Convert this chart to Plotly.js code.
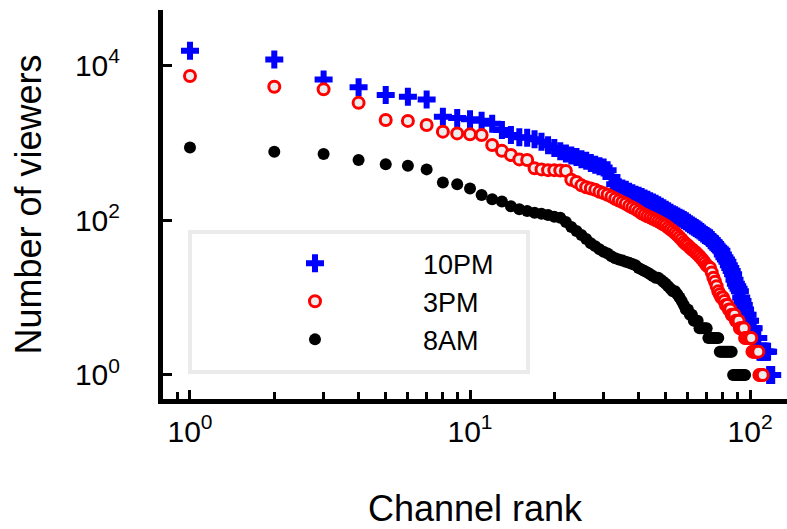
<!DOCTYPE html>
<html>
<head>
<meta charset="utf-8">
<script src="https://cdn.plot.ly/plotly-3.0.1.min.js"></script>
<style>html,body{margin:0;padding:0;background:#fff;} #chart{width:787px;height:529px;}</style>
</head>
<body>
<div id="chart"></div>
<script>
// Series values (viewers) by channel rank
const seriesNames = ["10PM", "3PM", "8AM"];
const viewers10PM = [
  15300, 11800, 6500, 5150, 4100, 3900, 3600, 2150, 2070, 2000,
  1910, 1740, 1450, 1250, 1170, 1150, 1100, 1020, 920, 850,
  770, 720, 680, 650, 610, 580, 545, 515, 495, 475,
  440, 360, 290, 265, 255, 245, 232, 222, 212, 205,
  198, 190, 182, 175, 168, 162, 155, 148, 142, 136,
  130, 124, 119, 115, 111, 107, 104, 100, 96, 92,
  88, 85, 82, 79, 76, 73, 70, 67, 64, 62,
  60, 58, 55, 52, 49, 46, 44, 42, 40, 36,
  33, 31, 29, 26, 24, 22, 20, 17, 15, 14,
  13, 12, 10, 9, 8, 7, 6, 6, 5, 5,
  4, 4, 4, 3, 3, 3, 3, 2, 2, 2,
  2, 2, 2, 2, 2, 2, 1, 1, 1, 1
];
const viewers3PM = [
  7200, 5250, 4850, 3250, 1950, 1900, 1680, 1380, 1310, 1275,
  1250, 930, 780, 690, 605, 595, 465, 450, 440, 440,
  435, 430, 330, 310, 280, 265, 255, 245, 232, 222,
  212, 200, 188, 178, 170, 162, 152, 145, 138, 130,
  122, 117, 112, 108, 104, 100, 96, 92, 88, 85,
  80, 76, 72, 68, 64, 60, 56, 52, 49, 47,
  44, 42, 40, 38, 36, 34, 32, 30, 28, 26,
  25, 24, 21, 18, 16, 14, 12, 11, 10, 10,
  9, 8, 8, 7, 7, 6, 6, 6, 5, 5,
  5, 4, 4, 4, 4, 3, 3, 3, 3, 3,
  3, 2, 2, 2, 2, 2, 2, 1, 1, 1,
  1
];
const viewers8AM = [
  865, 760, 710, 595, 525, 500, 450, 305, 290, 255,
  210, 185, 173, 150, 138, 131, 124, 120, 116, 110,
  107, 94, 81, 72, 64, 57, 50, 46, 42, 39,
  37, 34, 32, 31, 30, 29, 28, 27, 26, 24,
  23, 22, 21, 20, 19, 18, 18, 17, 16, 15,
  14, 13, 12, 12, 11, 10, 9, 8, 7, 7,
  6, 6, 5, 5, 5, 4, 4, 4, 4, 4,
  3, 3, 3, 3, 3, 3, 3, 2, 2, 2,
  2, 2, 2, 2, 2, 2, 1, 1, 1, 1,
  1, 1, 1, 1, 1, 1
];
const xTickVals = [1, 10, 100];
const xTickText = ["10<sup>0</sup>", "10<sup>1</sup>", "10<sup>2</sup>"];
const xMinorTickVals = [0.9, 2, 3, 4, 5, 6, 7, 8, 9, 20, 30, 40, 50, 60, 70, 80, 90];
const yTickVals = [1, 100, 10000];
const yTickText = ["10<sup>0</sup>", "10<sup>2</sup>", "10<sup>4</sup>"];

function ranks(arr) { return arr.map((_, i) => i + 1); }

const FONT = "Liberation Sans, Arial, Helvetica, sans-serif";

const traces = [
  {
    name: seriesNames[0], x: ranks(viewers10PM), y: viewers10PM,
    type: "scatter", mode: "markers",
    marker: { symbol: "cross", size: 15, color: "#0000ff", line: { width: 0 } }
  },
  {
    name: seriesNames[1], x: ranks(viewers3PM), y: viewers3PM,
    type: "scatter", mode: "markers",
    marker: { symbol: "circle", size: 11, color: "#ececec", line: { width: 3, color: "#ff0000" } }
  },
  {
    name: seriesNames[2], x: ranks(viewers8AM), y: viewers8AM,
    type: "scatter", mode: "markers",
    marker: { symbol: "circle", size: 12, color: "#000000", line: { width: 0 } }
  }
];

const layout = {
  width: 787, height: 529,
  margin: { l: 163, r: 0, t: 10, b: 130, pad: 0 },
  paper_bgcolor: "#ffffff", plot_bgcolor: "#ffffff",
  font: { family: FONT, color: "#000000", size: 26 },
  showlegend: true,
  legend: {
    x: 0.0705, y: 0.411, xanchor: "left", yanchor: "top",
    bgcolor: "rgba(0,0,0,0)", borderwidth: 0,
    itemwidth: 206,
    font: { family: FONT, size: 27, color: "#000" }
  },
  shapes: [
    { type: "rect", xref: "paper", yref: "paper", x0: 0.0433, x1: 0.585, y0: 0.0694, y1: 0.429,
      line: { color: "#ebebeb", width: 4 }, fillcolor: "rgba(0,0,0,0)", layer: "below" }
  ],
  xaxis: {
    type: "log", range: [-0.0964, 2.132], autorange: false,
    tickmode: "array", tickvals: xTickVals, ticktext: xTickText,
    ticks: "inside", ticklen: 9, tickwidth: 3, tickcolor: "#000000",
    minor: { tickmode: "array", tickvals: xMinorTickVals, ticks: "inside", ticklen: 7, tickwidth: 3, tickcolor: "#000000", showgrid: false },
    showline: true, linewidth: 5, linecolor: "#000", mirror: false,
    showgrid: false, zeroline: false,
    ticklabelstandoff: 2,
    tickfont: { family: FONT, size: 30, color: "#000" },
    title: { text: "Channel rank", font: { family: FONT, size: 36, color: "#000" }, standoff: 50 },
    automargin: false
  },
  yaxis: {
    type: "log", range: [-0.31, 4.71], autorange: false,
    tickmode: "array", tickvals: yTickVals, ticktext: yTickText,
    ticks: "inside", ticklen: 9, tickwidth: 3, tickcolor: "#000",
    showline: true, linewidth: 5, linecolor: "#000", mirror: false,
    showgrid: false, zeroline: false,
    ticklabelstandoff: 32,
    tickfont: { family: FONT, size: 30, color: "#000" },
    title: { text: "Number of viewers", font: { family: FONT, size: 36, color: "#000" }, standoff: 24 },
    automargin: false
  }
};

Plotly.newPlot("chart", traces, layout, { displayModeBar: false, staticPlot: true });
</script>
</body>
</html>
